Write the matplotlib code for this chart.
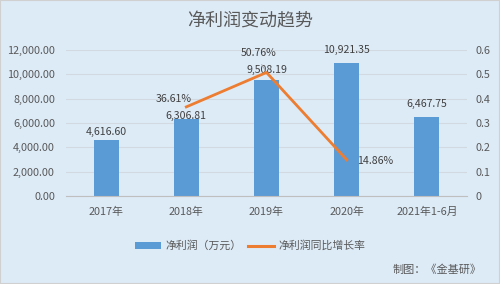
import matplotlib
matplotlib.use("Agg")
import matplotlib.pyplot as plt
from matplotlib.patches import Patch, Rectangle
from matplotlib.lines import Line2D
from matplotlib.ticker import FuncFormatter, MultipleLocator

plt.rcParams['font.family'] = ['Noto Sans CJK SC', 'DejaVu Sans']

categories = ["2017年", "2018年", "2019年", "2020年", "2021年1-6月"]
profit = [4616.60, 6306.81, 9508.19, 10921.35, 6467.75]
growth_idx = [1, 2, 3]
growth = [0.3661, 0.5076, 0.1486]
growth_labels = ["36.61%", "50.76%", "14.86%"]

bg = "#DDEBF7"
bar_c = "#5B9BD5"
line_c = "#ED7D31"
txt_c = "#595959"
lab_c = "#404040"

fig = plt.figure(figsize=(5.0, 2.84), dpi=100, facecolor=bg)
ax = fig.add_axes([0.132, 0.310, 0.802, 0.514])
ax.set_facecolor(bg)
ax2 = ax.twinx()

x = list(range(len(categories)))
ax.bar(x, profit, width=0.31, color=bar_c, zorder=2)
ax.set_xlim(-0.5, len(categories) - 0.5)
ax.set_ylim(0, 12000)
ax.yaxis.set_major_locator(MultipleLocator(2000))
ax.yaxis.set_major_formatter(FuncFormatter(lambda v, p: f"{v:,.2f}"))
ax.grid(axis='y', color="#D3D9E0", linewidth=0.8, zorder=0)
ax.set_axisbelow(True)
ax.set_xticks(x)
ax.set_xticklabels(categories)
for s in ['top', 'right', 'left']:
    ax.spines[s].set_visible(False)
ax.spines['bottom'].set_color("#BFBFBF")
ax.tick_params(axis='both', length=0, labelsize=7.8, colors=txt_c)
ax.tick_params(axis='y', pad=8)
ax.tick_params(axis='x', pad=8)

bar_label_dy = [5.8, 2.0, 7.4, 9.4, 9.4]
for xi, v, dy in zip(x, profit, bar_label_dy):
    ax.annotate(f"{v:,.2f}", (xi, v), xytext=(0, dy), textcoords='offset points',
                ha='center', va='center', fontsize=7.6, color=lab_c)

ax2.plot(growth_idx, growth, color=line_c, linewidth=2.0, zorder=3)
ax2.set_ylim(0, 0.6)
ax2.yaxis.set_major_locator(MultipleLocator(0.1))
ax2.yaxis.set_major_formatter(FuncFormatter(lambda v, p: "0" if abs(v) < 1e-9 else f"{v:.1f}"))
for s in ['top', 'right', 'left', 'bottom']:
    ax2.spines[s].set_visible(False)
ax2.tick_params(axis='y', length=0, labelsize=7.8, colors=txt_c, pad=6)

offsets = [(-9.4, 5.8), (-5.8, 14.0), (7.5, -0.7)]
has = ['center', 'center', 'left']
for xi, g, lab, off, ha in zip(growth_idx, growth, growth_labels, offsets, has):
    ax2.annotate(lab, (xi, g), xytext=off, textcoords='offset points',
                 ha=ha, va='center', fontsize=7.6, color=lab_c)

# small leader line for the 2019 growth label
ax2.annotate("", xy=(2, 0.5076), xytext=(-4.5, 7.5), textcoords='offset points',
             arrowprops=dict(arrowstyle='-', color="#A6A6A6", linewidth=0.6))

fig.text(0.5, 0.925, "净利润变动趋势", ha='center', va='center', fontsize=13, color=txt_c)

handles = [Patch(facecolor=bar_c, edgecolor='none'),
           Line2D([0], [0], color=line_c, linewidth=2.2)]
fig.legend(handles, ["净利润（万元）", "净利润同比增长率"], loc='center',
           bbox_to_anchor=(0.5, 0.134), ncol=2, frameon=False, fontsize=7.8,
           labelcolor=txt_c, handlelength=2.4, handletextpad=0.4, columnspacing=0.6)

fig.text(0.964, 0.052, "制图：《金基研》", ha='right', va='center', fontsize=8, color=txt_c)

fig.patches.append(Rectangle((0, 0), 1, 1, transform=fig.transFigure, fill=False,
                             edgecolor="#D0D0D0", linewidth=1.5))

fig.savefig("out.png", dpi=100, facecolor=bg)
